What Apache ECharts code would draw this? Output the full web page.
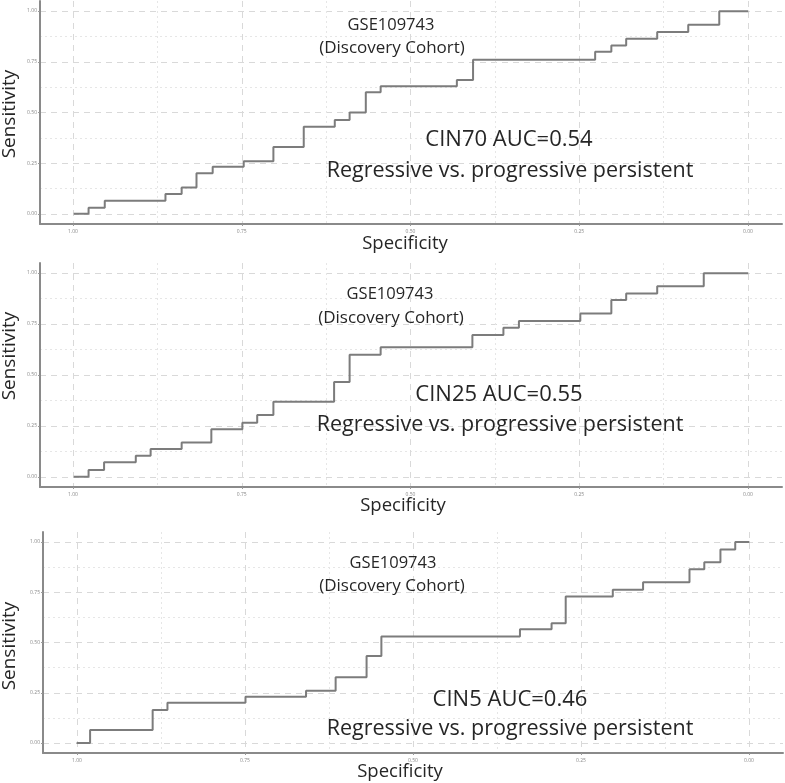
<!DOCTYPE html>
<html>
<head>
<meta charset="utf-8">
<script src="https://cdn.jsdelivr.net/npm/echarts@6/dist/echarts.min.js"></script>
<style>
html,body{margin:0;padding:0;background:#fff;}
#chart{width:785px;height:783px;}
</style>
</head>
<body>
<div id="chart"></div>
<script>
// ROC step vertices (specificity, sensitivity)
const spec70 = [1.0, 0.978, 0.954, 0.864, 0.840, 0.818, 0.794, 0.748, 0.704, 0.659, 0.613, 0.591, 0.567, 0.545, 0.432, 0.408, 0.227, 0.203, 0.181, 0.135, 0.089, 0.043, 0.0];
const sens70 = [0, 0.03, 0.065, 0.098, 0.13, 0.20, 0.233, 0.26, 0.33, 0.43, 0.463, 0.50, 0.60, 0.63, 0.66, 0.76, 0.80, 0.83, 0.864, 0.897, 0.933, 1.0, 1.0];

const spec25 = [1.0, 0.978, 0.955, 0.908, 0.886, 0.840, 0.796, 0.750, 0.728, 0.704, 0.614, 0.591, 0.545, 0.409, 0.363, 0.340, 0.249, 0.203, 0.181, 0.135, 0.066, 0.0];
const sens25 = [0, 0.033, 0.072, 0.103, 0.137, 0.168, 0.234, 0.266, 0.304, 0.369, 0.466, 0.60, 0.636, 0.696, 0.732, 0.765, 0.802, 0.868, 0.90, 0.936, 1.0, 1.0];

const spec5 = [1.0, 0.980, 0.887, 0.865, 0.749, 0.659, 0.615, 0.569, 0.547, 0.341, 0.294, 0.273, 0.203, 0.158, 0.089, 0.067, 0.043, 0.021, 0.0];
const sens5 = [0, 0.065, 0.164, 0.20, 0.23, 0.26, 0.327, 0.433, 0.53, 0.566, 0.596, 0.729, 0.762, 0.80, 0.864, 0.899, 0.963, 1.0, 1.0];

const cohortLabel = ["GSE109743", "(Discovery Cohort)"];
const aucLabels = ["CIN70 AUC=0.54", "CIN25 AUC=0.55", "CIN5 AUC=0.46"];
const comparisonLabel = "Regressive vs. progressive persistent";
const xTitle = "Specificity";
const yTitle = "Sensitivity";

const panels = [
  {spec: spec70, sens: sens70, auc: aucLabels[0],
   outer: {left: 40, top: 1, width: 742, height: 223},
   xIn: {left: 73, width: 675}, yIn: {top: 11, height: 203},
   gse: [391, 25], disc: [392, 48], aucPos: [509, 140], cmpPos: [510, 171], xt: [405, 244], yt: [10, 114]},
  {spec: spec25, sens: sens25, auc: aucLabels[1],
   outer: {left: 40, top: 263, width: 742, height: 224},
   xIn: {left: 73, width: 675}, yIn: {top: 273, height: 204},
   gse: [390, 294], disc: [391, 318], aucPos: [499, 395], cmpPos: [500, 425], xt: [403, 506], yt: [10, 356]},
  {spec: spec5, sens: sens5, auc: aucLabels[2],
   outer: {left: 43, top: 532, width: 740, height: 221},
   xIn: {left: 77, width: 672}, yIn: {top: 542, height: 201},
   gse: [393, 563], disc: [392, 586], aucPos: [510, 700], cmpPos: [510, 729], xt: [400, 772], yt: [10, 646]}
];

const FONT = '"Open Sans", "Noto Sans", sans-serif';
const gridColor = '#d9d9d9';
const minorColor = '#e6e6e6';
const axisColor = '#8a8a8a';
const curveColor = '#7c7c7c';

const grid = [], xAxis = [], yAxis = [], series = [], graphic = [];
const fmt = v => v.toFixed(2);

panels.forEach((p, i) => {
  const gA = grid.length;
  // A: full panel extent, axis lines + curve
  grid.push({left: p.outer.left, top: p.outer.top, width: p.outer.width, height: p.outer.height});
  xAxis.push({gridIndex: gA, type: 'value', min: -0.05, max: 1.05, inverse: true,
    axisLine: {show: true, onZero: false, lineStyle: {color: axisColor, width: 2}},
    axisTick: {show: false}, axisLabel: {show: false}, splitLine: {show: false}});
  yAxis.push({gridIndex: gA, type: 'value', min: -0.05, max: 1.05,
    axisLine: {show: true, onZero: false, lineStyle: {color: axisColor, width: 2}},
    axisTick: {show: false}, axisLabel: {show: false}, splitLine: {show: false}});
  // B: horizontal grid + y labels
  const gB = grid.length;
  grid.push({left: p.outer.left, top: p.yIn.top, width: p.outer.width, height: p.yIn.height});
  xAxis.push({gridIndex: gB, type: 'value', min: 0, max: 1, show: false});
  yAxis.push({gridIndex: gB, type: 'value', min: 0, max: 1, interval: 0.25,
    axisLine: {show: false}, axisTick: {show: true, length: 2, lineStyle: {color: '#999'}},
    axisLabel: {show: true, fontSize: 5, color: '#888', margin: 3, formatter: fmt, fontFamily: FONT},
    splitLine: {show: true, lineStyle: {color: gridColor, width: 1, type: [6, 5]}},
    minorTick: {show: false, splitNumber: 2},
    minorSplitLine: {show: true, lineStyle: {color: minorColor, width: 1, type: [2, 3]}}});
  // C: vertical grid + x labels
  const gC = grid.length;
  grid.push({left: p.xIn.left, top: p.outer.top, width: p.xIn.width, height: p.outer.height});
  xAxis.push({gridIndex: gC, type: 'value', min: 0, max: 1, interval: 0.25, inverse: true,
    axisLine: {show: false}, axisTick: {show: true, length: 2, lineStyle: {color: '#999'}},
    axisLabel: {show: true, fontSize: 5, color: '#888', margin: 5, formatter: fmt, fontFamily: FONT},
    splitLine: {show: true, lineStyle: {color: gridColor, width: 1, type: [6, 5]}},
    minorTick: {show: false, splitNumber: 2},
    minorSplitLine: {show: true, lineStyle: {color: minorColor, width: 1, type: [2, 3]}}});
  yAxis.push({gridIndex: gC, type: 'value', min: 0, max: 1, show: false});

  series.push({type: 'line', xAxisIndex: gA, yAxisIndex: gA, step: 'end', symbol: 'none',
    data: p.spec.map((s, k) => [s, p.sens[k]]),
    lineStyle: {color: curveColor, width: 2}, z: 5, animation: false});

  const txt = (pos, text, size, extra) => graphic.push(Object.assign({type: 'text', x: pos[0], y: pos[1],
    style: {text: text, fill: '#262626', font: size + 'px ' + FONT, textAlign: 'center', textVerticalAlign: 'middle'}, z: 10}, extra || {}));
  txt(p.gse, cohortLabel[0], 16.5);
  txt(p.disc, cohortLabel[1], 17);
  txt(p.aucPos, p.auc, 22);
  txt(p.cmpPos, comparisonLabel, 21.5);
  txt(p.xt, xTitle, 18.5);
  txt(p.yt, yTitle, 19, {rotation: Math.PI / 2});
});

const chart = echarts.init(document.getElementById('chart'), null, {renderer: 'canvas'});
chart.setOption({animation: false, backgroundColor: '#fff', grid, xAxis, yAxis, series, graphic});
</script>
</body>
</html>
